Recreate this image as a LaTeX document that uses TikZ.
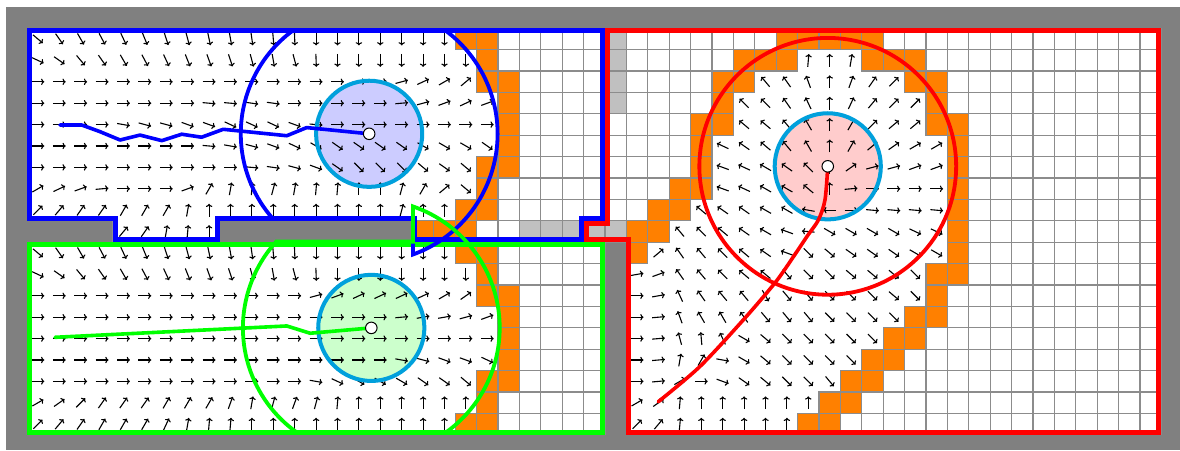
\documentclass[tikz,border=0pt]{standalone}
\usepackage{tikz}
\usepackage{xcolor}
\usetikzlibrary{calc,arrows.meta}

\definecolor{wallgray}{RGB}{128,128,128}
\definecolor{gridgray}{RGB}{140,140,140}
\definecolor{seengray}{RGB}{192,192,192}
\definecolor{frontorange}{RGB}{255,128,0}
\definecolor{ringcyan}{RGB}{0,160,220}
\definecolor{bluebot}{RGB}{204,204,255}
\definecolor{greenbot}{RGB}{204,255,204}
\definecolor{redbot}{RGB}{255,204,204}
\definecolor{roomblue}{RGB}{0,0,255}
\definecolor{roomgreen}{RGB}{0,255,0}
\definecolor{roomred}{RGB}{255,0,0}

\newcommand{\cellrow}[4]{\foreach \c in {#2,...,#3} \draw[#4] (\c,-#1) rectangle ++(1,-1);}
\newcommand{\vecrow}[3]{\foreach \a [count=\i from #2] in {#3}
  \draw[vec, shift={(\i+0.5,-#1-0.5)}] (\a+180:0.3) -- (\a:0.3);}

\begin{document}
\begin{tikzpicture}[x=0.75cm,y=0.75cm,
  free/.style={draw=gridgray, line width=1.2pt, fill=white},
  front/.style={free, fill=frontorange},
  seen/.style={free, fill=seengray},
  vec/.style={-{To[length=3.2pt,width=6.4pt]}, line width=1.1pt, black},
  room/.style={line width=5pt, line join=miter},
  sector/.style={line width=3.8pt, line join=miter},
  trail/.style={line width=3.6pt, line join=round, line cap=round},
  ring/.style={draw=ringcyan, line width=4pt},
  bot/.style={draw=black, fill=white, line width=1pt}]
\fill[white] (-1.271,1.322) rectangle (53.87,-19.71);
\useasboundingbox (-1.271,1.322) rectangle (53.87,-19.71);
\fill[wallgray] (-1,1) rectangle (53.87,-19.71);

\coordinate (blueBot) at (15.98,-4.93);
\coordinate (greenBot) at (16.08,-14.0);
\coordinate (redBot) at (37.41,-6.45);

% rooms
\fill[white] (0,0) -- (27,0) -- (27,-9) -- (26,-9) -- (26,-10) -- (18,-10) -- (18,-9) -- (9,-9) -- (9,-10) -- (4,-10) -- (4,-9) -- (0,-9) -- cycle;
\fill[white] (0,-10) rectangle (27,-19);
\fill[white] (27,0) -- (53,0) -- (53,-19) -- (28,-19) -- (28,-10) -- (26,-10) -- (26,-9) -- (27,-9) -- cycle;

% blue room cells
\cellrow{0}{20}{21}{front} \cellrow{0}{22}{26}{free}
\cellrow{1}{21}{21}{front} \cellrow{1}{22}{26}{free}
\cellrow{2}{21}{22}{front} \cellrow{2}{23}{26}{free}
\cellrow{3}{22}{22}{front} \cellrow{3}{23}{26}{free}
\cellrow{4}{22}{22}{front} \cellrow{4}{23}{26}{free}
\cellrow{5}{22}{22}{front} \cellrow{5}{23}{26}{free}
\cellrow{6}{21}{22}{front} \cellrow{6}{23}{26}{free}
\cellrow{7}{21}{21}{front} \cellrow{7}{22}{26}{free}
\cellrow{8}{20}{21}{front} \cellrow{8}{22}{26}{free}
\cellrow{9}{18}{20}{front} \cellrow{9}{21}{22}{free} \cellrow{9}{23}{27}{seen}

% green room cells
\cellrow{10}{20}{21}{front} \cellrow{10}{22}{26}{free}
\cellrow{11}{21}{21}{front} \cellrow{11}{22}{26}{free}
\cellrow{12}{21}{22}{front} \cellrow{12}{23}{26}{free}
\cellrow{13}{22}{22}{front} \cellrow{13}{23}{26}{free}
\cellrow{14}{22}{22}{front} \cellrow{14}{23}{26}{free}
\cellrow{15}{22}{22}{front} \cellrow{15}{23}{26}{free}
\cellrow{16}{21}{22}{front} \cellrow{16}{23}{26}{free}
\cellrow{17}{21}{21}{front} \cellrow{17}{22}{26}{free}
\cellrow{18}{20}{21}{front} \cellrow{18}{22}{26}{free}

% red room cells
\cellrow{0}{27}{27}{seen} \cellrow{0}{28}{34}{free} \cellrow{0}{35}{39}{front} \cellrow{0}{40}{52}{free}
\cellrow{1}{27}{27}{seen} \cellrow{1}{28}{32}{free} \cellrow{1}{33}{35}{front} \cellrow{1}{39}{41}{front} \cellrow{1}{42}{52}{free}
\cellrow{2}{27}{27}{seen} \cellrow{2}{28}{31}{free} \cellrow{2}{32}{33}{front} \cellrow{2}{41}{42}{front} \cellrow{2}{43}{52}{free}
\cellrow{3}{27}{27}{seen} \cellrow{3}{28}{31}{free} \cellrow{3}{32}{32}{front} \cellrow{3}{42}{42}{front} \cellrow{3}{43}{52}{free}
\cellrow{4}{27}{30}{free} \cellrow{4}{31}{32}{front} \cellrow{4}{42}{43}{front} \cellrow{4}{44}{52}{free}
\cellrow{5}{27}{30}{free} \cellrow{5}{31}{31}{front} \cellrow{5}{43}{43}{front} \cellrow{5}{44}{52}{free}
\cellrow{6}{27}{30}{free} \cellrow{6}{31}{31}{front} \cellrow{6}{43}{43}{front} \cellrow{6}{44}{52}{free}
\cellrow{7}{27}{29}{free} \cellrow{7}{30}{31}{front} \cellrow{7}{43}{43}{front} \cellrow{7}{44}{52}{free}
\cellrow{8}{27}{28}{free} \cellrow{8}{29}{30}{front} \cellrow{8}{43}{43}{front} \cellrow{8}{44}{52}{free}
\cellrow{9}{28}{29}{front} \cellrow{9}{43}{43}{front} \cellrow{9}{44}{52}{free}
\cellrow{10}{28}{28}{front} \cellrow{10}{43}{43}{front} \cellrow{10}{44}{52}{free}
\cellrow{11}{42}{43}{front} \cellrow{11}{44}{52}{free}
\cellrow{12}{42}{42}{front} \cellrow{12}{43}{52}{free}
\cellrow{13}{41}{42}{front} \cellrow{13}{43}{52}{free}
\cellrow{14}{40}{41}{front} \cellrow{14}{42}{52}{free}
\cellrow{15}{39}{40}{front} \cellrow{15}{41}{52}{free}
\cellrow{16}{38}{39}{front} \cellrow{16}{40}{52}{free}
\cellrow{17}{37}{38}{front} \cellrow{17}{39}{52}{free}
\cellrow{18}{36}{37}{front} \cellrow{18}{38}{52}{free}

% robot discs
\fill[bluebot] (blueBot) circle (2.48);
\fill[greenbot] (greenBot) circle (2.48);
\fill[redbot] (redBot) circle (2.48);

% blue field
\vecrow{0}{0}{-40,-55,-60,-62,-65,-68,-72,-75,-78,-80,-82,-85,-88,-90,-90,-90,-90,-90,-90,-90}
\vecrow{1}{0}{-25,-35,-50,-55,-60,-62,-65,-68,-70,-72,-75,-80,-75,-88,-90,-90,-90,-90,-90,-90,-90}
\vecrow{2}{0}{0,0,0,0,0,0,0,0,0,0,0,0,0,0,0,3,5,15,25,30,40}
\vecrow{3}{0}{0,0,0,0,0,0,0,0,-5,-5,-8,-8,0,0,0,0,0,5,15,20,25,20}
\vecrow{4}{0}{0,0,0,0,-10,-15,-15,-20,-20,-25,-25,-25,-20,-5,0,0,0,0,0,0,0,0}
\vecrow{5}{0}{0,0,0,0,0,0,0,0,-5,-10,-15,-20,-25,-30,-35,-35,-35,-35,-30,-30,-30,-35}
\vecrow{6}{0}{0,0,0,0,0,0,0,0,0,0,-5,-8,-15,-20,-35,-45,-45,-45,-40,-35,-40}
\vecrow{7}{0}{30,25,20,5,0,0,0,20,60,80,85,75,80,85,85,90,90,75,60,40,-40}
\vecrow{8}{0}{45,50,55,55,60,60,60,80,90,90,90,90,90,90,90,90,90,75,90,90}
\vecrow{9}{4}{50,55,80,85,90}

% green field
\vecrow{10}{0}{-40,-55,-60,-62,-65,-68,-72,-75,-78,-80,-82,-85,-88,-90,-90,-90,-90,-90,-90,-90}
\vecrow{11}{0}{-25,-35,-50,-55,-60,-62,-65,-68,-70,-72,-75,-80,-75,-88,-90,-90,-90,-90,-90,-90,-90}
\vecrow{12}{0}{0,0,0,0,0,0,0,0,0,0,0,0,0,15,20,25,25,25,25,30,35}
\vecrow{13}{0}{0,0,0,0,0,0,0,0,0,0,0,0,0,0,0,0,0,5,10,10,15,20}
\vecrow{14}{0}{0,0,0,0,0,0,0,0,0,0,0,0,0,0,0,0,0,0,0,0,0,0}
\vecrow{15}{0}{0,0,0,0,0,0,0,0,0,0,0,0,0,0,0,0,0,-10,-15,-20,-20,-25}
\vecrow{16}{0}{0,0,0,0,0,0,0,0,0,0,0,0,0,-10,-25,-30,-30,-30,-35,-35,-40}
\vecrow{17}{0}{30,35,45,55,55,55,60,60,60,70,80,75,70,75,85,90,90,90,90,90,90}
\vecrow{18}{0}{45,50,55,60,60,60,65,80,85,85,90,90,90,90,90,90,90,90,90,90}

% red field
\vecrow{1}{36}{85,90,80}
\vecrow{2}{34}{130,125,110,90,70,55,45}
\vecrow{3}{33}{135,135,125,115,90,65,50,45,45}
\vecrow{4}{33}{140,140,130,120,90,60,45,40,40}
\vecrow{5}{32}{155,145,140,130,120,90,60,40,35,30,30}
\vecrow{6}{32}{160,155,150,145,135,90,35,15,15,20,20}
\vecrow{7}{32}{160,155,150,150,140,90,5,0,0,0,0}
\vecrow{8}{31}{140,145,145,150,150,170,180,0,-5,-5,-5,-5}
\vecrow{9}{30}{130,135,140,145,150,160,175,-30,-30,-30,-30,-25,-25}
\vecrow{10}{29}{40,125,130,135,140,145,160,-45,-40,-35,-35,-35,-30,-30}
\vecrow{11}{28}{10,20,125,130,135,140,140,-50,-45,-45,-40,-40,-40,-45}
\vecrow{12}{28}{0,10,115,125,130,130,-60,-50,-50,-45,-45,-45,-40,-45}
\vecrow{13}{28}{0,5,110,120,120,125,-50,-50,-50,-45,-45,-45,-45}
\vecrow{14}{28}{0,5,105,95,115,-30,-40,-45,-45,-45,-45,-45}
\vecrow{15}{28}{0,5,80,60,-10,-30,-40,-45,-45,-45,-45}
\vecrow{16}{28}{0,5,30,0,-20,-35,-40,-45,-45,-50}
\vecrow{17}{28}{30,35,85,90,90,90,90,90,90}
\vecrow{18}{28}{45,50,85,90,90,90,90,90}

% room borders
\draw[room, roomblue] (0.12,-0.12) -- (26.88,-0.12) -- (26.88,-8.88) -- (25.88,-8.88) -- (25.88,-9.88) -- (18.12,-9.88) -- (18.12,-8.88) -- (8.88,-8.88) -- (8.88,-9.88) -- (4.12,-9.88) -- (4.12,-8.88) -- (0.12,-8.88) -- cycle;
\draw[room, roomgreen] (0.12,-10.12) rectangle (26.88,-18.88);
\draw[room, roomred] (27.12,-0.12) -- (52.88,-0.12) -- (52.88,-18.88) -- (28.12,-18.88) -- (28.12,-9.88) -- (26.12,-9.88) -- (26.12,-9.12) -- (27.12,-9.12) -- cycle;

% sensor ranges
\draw[sector, roomblue] ($(blueBot)+(126.07:6)$) arc[start angle=126.07, end angle=221.05, radius=6]
  -- (18.03,-8.87) -- ($(blueBot)+(-70.02:6)$) arc[start angle=-70.02, end angle=53.93, radius=6] -- cycle;
\draw[sector, roomgreen] ($(greenBot)+(137.8:6)$) arc[start angle=137.8, end angle=234.76, radius=6]
  -- ($(greenBot)+(-54.76:6)$) arc[start angle=-54.76, end angle=71.03, radius=6] -- (18.03,-9.97) -- cycle;
\draw[sector, roomred] (redBot) circle (6);

% rings
\draw[ring] (blueBot) circle (2.48);
\draw[ring] (greenBot) circle (2.48);
\draw[ring] (redBot) circle (2.48);

% trails
\draw[trail, roomblue] (1.53,-4.52) -- (2.55,-4.52) -- (3.40,-4.83) -- (4.34,-5.22) -- (5.27,-4.99) -- (6.29,-5.25) -- (7.22,-4.95) -- (8.15,-5.09) -- (9.16,-4.72) -- (12.13,-5.02) -- (13.06,-4.64) -- (blueBot);
\draw[trail, roomgreen] (1.30,-14.44) -- (12.13,-13.91) -- (13.22,-14.25) -- (greenBot);
\draw[trail, roomred] plot[smooth, tension=0.5] coordinates {(37.41,-6.47) (37.28,-8.02) (36.97,-8.96) (36.43,-9.74) (35.49,-11.14) (34.86,-12.0) (33.46,-13.63) (31.43,-15.81) (29.49,-17.45)};

% robots
\draw[bot] (blueBot) circle (0.27);
\draw[bot] (greenBot) circle (0.27);
\draw[bot] (redBot) circle (0.27);
\end{tikzpicture}
\end{document}
